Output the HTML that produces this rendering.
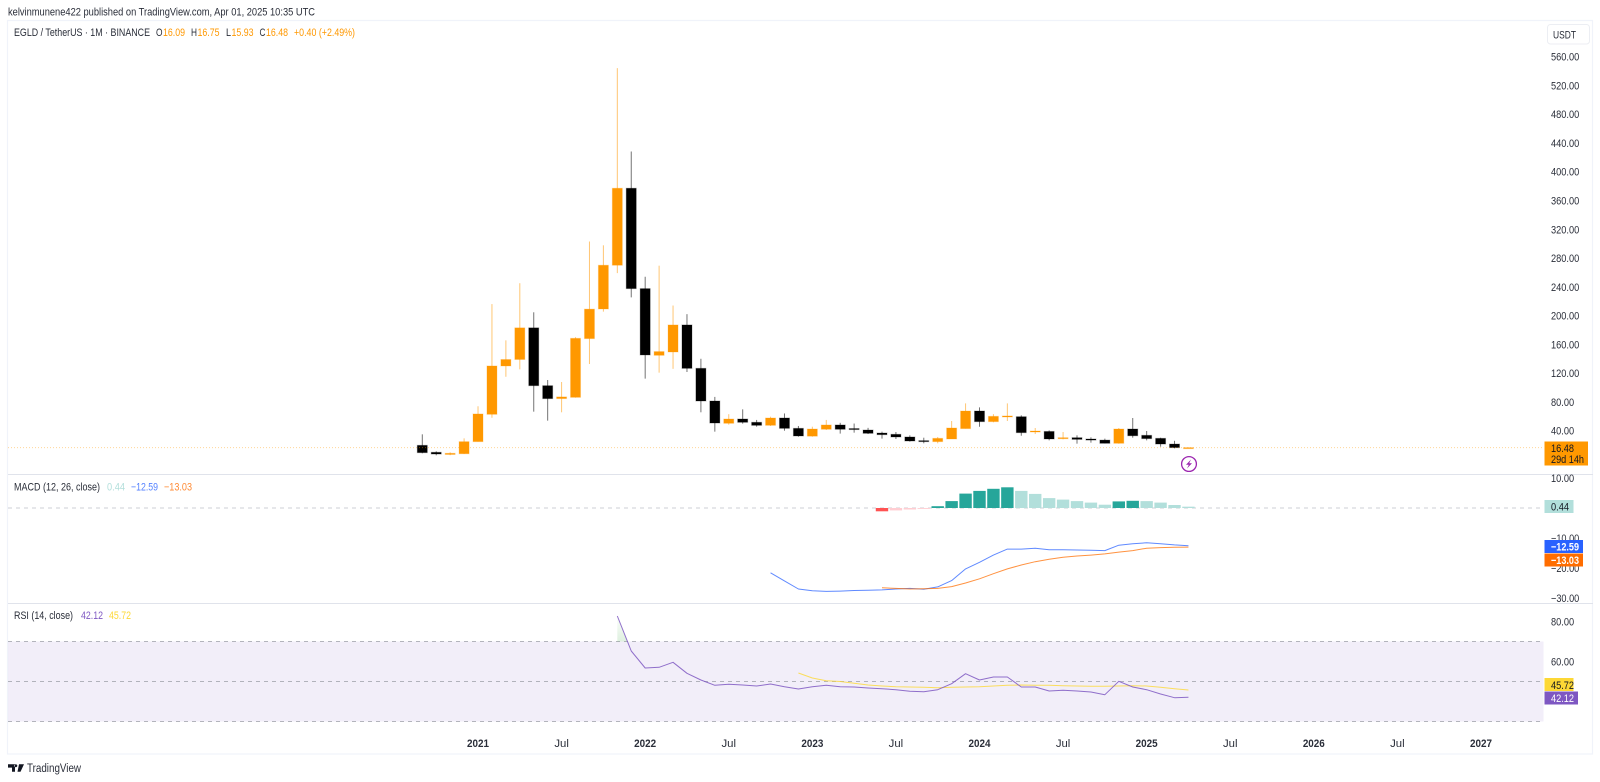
<!DOCTYPE html>
<html lang="en">
<head>
<meta charset="utf-8">
<title>EGLD / TetherUS chart</title>
<style>
html,body{margin:0;padding:0;background:#fff;width:1600px;height:782px;overflow:hidden}
svg{display:block;font-family:"Liberation Sans",sans-serif}
</style>
</head>
<body>
<svg id="chart" width="1600" height="782" viewBox="0 0 1600 782" xmlns="http://www.w3.org/2000/svg">
  <defs>
    <linearGradient id="rsiOverbought" x1="0" y1="0" x2="0" y2="1">
      <stop offset="0" stop-color="#4caf50" stop-opacity="0.02"/>
      <stop offset="1" stop-color="#4caf50" stop-opacity="0.18"/>
    </linearGradient>
  </defs>
  <text x="8" y="15.5" font-size="11" fill="#2a2e39" textLength="307" lengthAdjust="spacingAndGlyphs">kelvinmunene422 published on TradingView.com, Apr 01, 2025 10:35 UTC</text>

  <g fill="none" stroke="#f0f3fa" stroke-width="1.2">
    <path d="M7.5 20.5H1592.5V754H7.5Z"/>
  </g>
  <rect x="8" y="474" width="1585" height="1" fill="#e0e3eb"/>
  <rect x="8" y="603" width="1585" height="1" fill="#e0e3eb"/>

  <g font-size="11">
    <text x="14" y="36" fill="#2a2e39" textLength="136" lengthAdjust="spacingAndGlyphs">EGLD / TetherUS · 1M · BINANCE</text>
    <text x="156" y="36" fill="#2a2e39" textLength="6.5" lengthAdjust="spacingAndGlyphs">O</text>
    <text x="163" y="36" fill="#ff9800" textLength="22" lengthAdjust="spacingAndGlyphs">16.09</text>
    <text x="191" y="36" fill="#2a2e39" textLength="6" lengthAdjust="spacingAndGlyphs">H</text>
    <text x="197.5" y="36" fill="#ff9800" textLength="22" lengthAdjust="spacingAndGlyphs">16.75</text>
    <text x="226" y="36" fill="#2a2e39" textLength="5" lengthAdjust="spacingAndGlyphs">L</text>
    <text x="231.5" y="36" fill="#ff9800" textLength="22" lengthAdjust="spacingAndGlyphs">15.93</text>
    <text x="259.5" y="36" fill="#2a2e39" textLength="6" lengthAdjust="spacingAndGlyphs">C</text>
    <text x="266" y="36" fill="#ff9800" textLength="22" lengthAdjust="spacingAndGlyphs">16.48</text>
    <text x="294" y="36" fill="#ff9800" textLength="61" lengthAdjust="spacingAndGlyphs">+0.40 (+2.49%)</text>
  </g>

  <g font-size="11">
    <text x="14" y="490.5" fill="#2a2e39" textLength="86" lengthAdjust="spacingAndGlyphs">MACD (12, 26, close)</text>
    <text x="107" y="490.5" fill="#b2dfdb" textLength="18" lengthAdjust="spacingAndGlyphs">0.44</text>
    <text x="131" y="490.5" fill="#2962ff" fill-opacity="0.8" textLength="27" lengthAdjust="spacingAndGlyphs">−12.59</text>
    <text x="164" y="490.5" fill="#ff6d00" fill-opacity="0.8" textLength="28" lengthAdjust="spacingAndGlyphs">−13.03</text>
  </g>

  <g font-size="11">
    <text x="14" y="619" fill="#2a2e39" textLength="59" lengthAdjust="spacingAndGlyphs">RSI (14, close)</text>
    <text x="81" y="619" fill="#7e57c2" textLength="22" lengthAdjust="spacingAndGlyphs">42.12</text>
    <text x="109" y="619" fill="#fdd835" textLength="22" lengthAdjust="spacingAndGlyphs">45.72</text>
  </g>

  <g id="rsiBack"></g>
  <g id="macdHistogram"></g>
  <g id="candles"></g>
  <g id="lines"></g>
  <g id="ticks" font-size="11" fill="#2a2e39"></g>

  <g>
    <rect x="1547.5" y="24.5" width="42" height="19.5" rx="3" fill="#fff" stroke="#eceef3"/>
    <text x="1553" y="38.5" font-size="11" fill="#2a2e39" textLength="23" lengthAdjust="spacingAndGlyphs">USDT</text>
  </g>

  <g>
    <rect x="1544.5" y="441.5" width="43.5" height="24" fill="#ff9800"/>
    <text x="1551" y="452" font-size="11" fill="#131722" textLength="23" lengthAdjust="spacingAndGlyphs">16.48</text>
    <text x="1551" y="463" font-size="11" fill="#131722" textLength="33" lengthAdjust="spacingAndGlyphs">29d 14h</text>
  </g>
  <g font-size="11">
    <rect x="1544.5" y="500" width="29" height="13" fill="#b2dfdb"/>
    <text x="1551" y="510.5" fill="#131722" textLength="18" lengthAdjust="spacingAndGlyphs">0.44</text>
    <rect x="1544.5" y="540" width="38.5" height="13" fill="#2962ff"/>
    <text x="1551" y="550.5" fill="#fff" font-weight="bold" textLength="28" lengthAdjust="spacingAndGlyphs">−12.59</text>
    <rect x="1544.5" y="553.5" width="38.5" height="13" fill="#ff6d00"/>
    <text x="1551" y="564" fill="#fff" font-weight="bold" textLength="28" lengthAdjust="spacingAndGlyphs">−13.03</text>
  </g>
  <g font-size="11">
    <rect x="1544.5" y="678" width="29" height="13" fill="#fdd835"/>
    <text x="1551" y="689" fill="#131722" textLength="23" lengthAdjust="spacingAndGlyphs">45.72</text>
    <rect x="1544.5" y="691.5" width="33.5" height="13" fill="#7e57c2"/>
    <text x="1551" y="702" fill="#fff" textLength="23" lengthAdjust="spacingAndGlyphs">42.12</text>
  </g>

  <g>
    <circle cx="1189" cy="464" r="7.4" fill="#fff" stroke="#9c27b0" stroke-width="1.3"/>
    <path d="M1191 459.5L1186 464.8H1188.8L1187 468.5L1192 463.2H1189.2Z" fill="#9c27b0"/>
  </g>

  <g>
    <path d="M8 764.3H15V771.8H12V767.6H8ZM19 764.3H24L20.5 771.8H17.5Z M15.8 764.3a1.5 1.5 0 1 0 .01 0" fill="#131722"/>
    <text x="27" y="772" font-size="11.5" fill="#2a2e39" textLength="54" lengthAdjust="spacingAndGlyphs">TradingView</text>
  </g>
</svg>

<script>
// Monthly candles, first bar = Sep 2020
const opens  = [19.7,10,7,8,24.8,62.8,130,139,183,102.6,84.6,86.4,168,209.2,270,377,237.5,144.8,149.4,187,126.7,81.3,50.3,56.3,51.7,47.5,57.7,43.3,32.4,42,48,43,41,36.8,35,31.3,26.2,24.8,28.5,42.9,67.4,52.6,60,59.5,38.7,39,29,30.3,28.5,27,22.5,42.4,33.6,29.4,21.5,16.09];
const highs  = [35,11.4,10,29.4,74,216,165.6,245,204.6,110.5,107.7,170,303,297.7,544,428,254,269.4,214,202,140,87,63,69.7,55,59.5,64,46.6,45.6,55,51,50,44,38.7,38.2,33.6,30.3,31.3,53.5,78,72.5,63,78,61.4,43.8,40.5,38.2,33.6,30.8,29,43.8,57.7,39.6,30.3,26,16.75];
const lows   = [8.6,5.8,6,7.6,24.8,58,115,125.3,66.5,54,65.6,86,132.7,205.5,259,225.4,112.4,120.7,126,121.6,65.6,38.7,48.4,49.8,45.6,46.6,40,31.7,31.7,41,36,37.3,35.4,29,28.5,24.8,22.5,22.5,28.5,42.9,45.6,51.7,53.5,33,35.4,26.6,28,22,23.4,22.5,22,30.3,26.6,17.8,15.5,15.93];
const closes = [9.5,7.6,8.6,24.8,63.3,130,139,183,102.6,84.6,87,168.4,209,270,377,237.5,145.3,150,187,126.7,81.3,50.7,56.3,51.7,47.5,57.7,43.3,32.7,42.4,48,42,42,36.4,34.5,31.3,25.7,25.3,29.4,43.8,67.4,52.6,60,60.5,37.3,39.6,28.5,30.3,28,27,22.5,42.4,33,29,21.5,16.5,16.48];

// MACD pane values; macdStart / signalStart / histStart are bar indexes of the first value
const macdStart = 25;
const macdLine = [-21.6,-24.3,-27,-27.6,-27.8,-27.7,-27.5,-27.4,-27.3,-27,-26.8,-27.1,-26.3,-24.2,-20.3,-18.1,-15.7,-13.7,-13.7,-13.4,-13.9,-13.9,-14,-14.1,-14.2,-12.4,-11.9,-11.6,-11.9,-12.3,-12.59];
const signalStart = 33;
const macdSignal = [-26.6,-26.8,-27,-26.9,-26.8,-26.2,-25,-23.6,-21.9,-20.3,-19,-17.9,-17.1,-16.4,-16,-15.7,-15.3,-14.7,-14.2,-13.4,-13.2,-13.1,-13.03];
const histStart = 33;
const macdHist = [-1.1,-0.8,-0.5,-0.3,0.6,2.3,4.8,5.7,6.4,6.9,5.7,4.7,3.3,2.8,2.3,1.8,1.1,2.2,2.4,2.3,1.8,1,0.44];

// RSI pane values
const rsiStart = 14;
const rsiLine = [82.75,65.25,56.75,57.1,59.6,54.1,50.75,48.1,48.6,48.25,47.75,48.75,47.4,46.25,47.4,48.1,47.4,47.25,46.75,46.4,45.9,45.1,44.9,45.9,48.9,53.9,50.75,52.25,52.25,47.25,47.25,45.25,45.6,45.25,44.75,43.4,50.1,47.25,45.9,43.75,41.9,42.12];
const rsiSignalStart = 27;
const rsiSignal = [54.25,51.75,50.4,50,49.1,48.25,47.75,47.4,47.25,47.1,46.9,47.1,47.25,47.4,47.75,48.1,48.25,48.1,48.1,47.9,47.75,47.6,47.6,47.75,47.9,47.75,47.1,46.4,45.72];
const rsiLevels = [70,50,30];

// Tick labels
const priceTicks = [40,80,120,160,200,240,280,320,360,400,440,480,520,560];
const macdTicks = [10,-10,-20,-30];
const rsiTicks = [80,60];
const timeTickBars = [4,10,16,22,28,34,40,46,52,58,64,70,76];
const timeTickLabels = ['2021','Jul','2022','Jul','2023','Jul','2024','Jul','2025','Jul','2026','Jul','2027'];
const lastPrice = 16.48;

// Axis functions
const xBar = i => 422.3 + i * 13.93;
const yPrice = p => 459.5 - 0.7195 * p;
const yMacd = v => 508 - 3 * v;
const yRsi = v => 781.5 - 2 * v;

const NS = 'http://www.w3.org/2000/svg';
function mk(parent, tag, attrs) {
  const el = document.createElementNS(NS, tag);
  for (const k in attrs) el.setAttribute(k, attrs[k]);
  parent.appendChild(el);
  return el;
}
function pathFrom(values, start, yFn) {
  return values.map((v, i) => (i ? 'L' : 'M') + xBar(start + i).toFixed(2) + ' ' + yFn(v).toFixed(2)).join('');
}
function labelWidth(s) {
  let w = 0;
  for (const c of s) w += c === '.' ? 2.5 : 5.15;
  return w;
}

const rsiBack = document.getElementById('rsiBack');
const band = mk(rsiBack, 'rect', {x: 8, y: yRsi(rsiLevels[0]), width: 1535.5, height: yRsi(rsiLevels[2]) - yRsi(rsiLevels[0]), fill: '#7e57c2', 'fill-opacity': 0.1});


rsiLevels.forEach(level => {
  const ln = mk(rsiBack, 'line', {x1: 8, x2: 1543.5, y1: yRsi(level), y2: yRsi(level), stroke: '#9598a1', 'stroke-opacity': 0.7, 'stroke-width': 1, 'stroke-dasharray': '4 4'});
  
  
});
// Overbought fill between first RSI point and its crossing of the upper level
if (rsiLine[0] > rsiLevels[0] && rsiLine[1] < rsiLevels[0]) {
  const t = (rsiLine[0] - rsiLevels[0]) / (rsiLine[0] - rsiLine[1]);
  const x0 = xBar(rsiStart), x1 = x0 + t * (xBar(rsiStart + 1) - x0);
  const ob = mk(rsiBack, 'polygon', {points: [x0, yRsi(rsiLine[0]), x1, yRsi(rsiLevels[0]), x0, yRsi(rsiLevels[0])].join(' '), fill: 'url(#rsiOverbought)'});
  
  
}

const histG = document.getElementById('macdHistogram');
const zero = mk(histG, 'line', {x1: 8, x2: 1543.5, y1: yMacd(0), y2: yMacd(0), stroke: '#c4c7ce', 'stroke-opacity': 0.85, 'stroke-width': 1, 'stroke-dasharray': '4 4'});


macdHist.forEach((v, i) => {
  const prev = i ? macdHist[i - 1] : 0;
  const rising = v > prev;
  const fill = v >= 0 ? (rising ? '#26a69a' : '#b2dfdb') : (i === 0 ? '#ff5252' : '#ffcdd2');
  const bar = mk(histG, 'rect', {x: xBar(histStart + i) - 6.2, width: 12.4, y: Math.min(yMacd(v), yMacd(0)), height: Math.abs(yMacd(v) - yMacd(0)), fill: fill});
  
  
});

const candleG = document.getElementById('candles');
opens.forEach((o, i) => {
  const c = closes[i];
  const color = c >= o ? '#ff9800' : '#000000';
  const x = xBar(i);
  const wick = mk(candleG, 'line', {x1: x, x2: x, y1: yPrice(highs[i]), y2: yPrice(lows[i]), stroke: color, 'stroke-opacity': 0.55, 'stroke-width': 1});
  
  
  const top = yPrice(Math.max(o, c));
  const h = Math.max(yPrice(Math.min(o, c)) - top, 1);
  const body = mk(candleG, 'rect', {x: x - 5, width: 10, y: top, height: h, fill: color, stroke: color, 'stroke-opacity': 0.25, 'stroke-width': 1});
  
  
});
const priceLine = mk(candleG, 'line', {x1: 8, x2: 1543.5, y1: yPrice(lastPrice), y2: yPrice(lastPrice), stroke: '#ff9800', 'stroke-opacity': 0.4, 'stroke-width': 1, 'stroke-dasharray': '1 2'});



const lineG = document.getElementById('lines');
const seriesDefs = [
  {name: 'macd-line', d: pathFrom(macdLine, macdStart, yMacd), color: '#2962ff', w: 0.75},
  {name: 'macd-signal-line', d: pathFrom(macdSignal, signalStart, yMacd), color: '#ff6d00', w: 0.75},
  {name: 'rsi-signal-line', d: pathFrom(rsiSignal, rsiSignalStart, yRsi), color: '#fdd835', w: 0.8},
  {name: 'rsi-line', d: pathFrom(rsiLine, rsiStart, yRsi), color: '#7e57c2', w: 0.85}
];
seriesDefs.forEach(s => {
  const p = mk(lineG, 'path', {d: s.d, fill: 'none', stroke: s.color, 'stroke-opacity': s.w, 'stroke-width': 1, 'stroke-linejoin': 'round'});
  
  
});

const tickG = document.getElementById('ticks');
function axisLabel(str, y, name) {
  const t = mk(tickG, 'text', {x: 1551, y: y + 4, textLength: labelWidth(str), lengthAdjust: 'spacingAndGlyphs'});
  t.textContent = str;
  
  
}
priceTicks.forEach(v => axisLabel(v.toFixed(2), yPrice(v), 'price-axis-label'));
macdTicks.forEach(v => axisLabel(v.toFixed(2).replace('-', '\u2212'), yMacd(v), 'macd-axis-label'));
rsiTicks.forEach(v => axisLabel(v.toFixed(2), yRsi(v), 'rsi-axis-label'));
timeTickBars.forEach((b, i) => {
  const s = timeTickLabels[i];
  const isYear = s.length === 4;
  const t = mk(tickG, 'text', {x: xBar(b), y: 747, 'text-anchor': 'middle', 'font-weight': isYear ? 'bold' : 'normal', textLength: isYear ? 22 : 14.5, lengthAdjust: 'spacingAndGlyphs'});
  t.textContent = s;
  
  
});
</script>
</body>
</html>
